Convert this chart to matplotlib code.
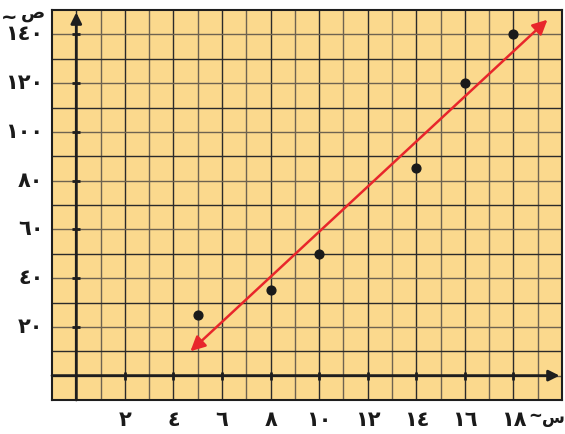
import numpy as np
import matplotlib.pyplot as plt

# data
xs = [5, 8, 10, 14, 16, 18]
ys = [25, 35, 50, 85, 120, 140]
fit_x = [4.7, 19.4]
fit_y = [10, 146]

ar = '٠١٢٣٤٥٦٧٨٩'
def arabic(n):
    return ''.join(ar[int(c)] for c in str(n))

x_ticks = [2, 4, 6, 8, 10, 12, 14, 16, 18]
y_ticks = [20, 40, 60, 80, 100, 120, 140]

plt.rcParams['font.family'] = ['DejaVu Sans']

fig = plt.figure(figsize=(5.65, 4.34), dpi=100)
ax = fig.add_axes([52/565, 34/434, 510/565, 390/434])
ax.set_facecolor('#FBD98D')
ax.set_xlim(-1, 20)
ax.set_ylim(-10, 150)

# grid
for gx in range(0, 20):
    c = '#2b2b2b' if gx % 2 == 0 else '#6e6350'
    ax.axvline(gx, color=c, lw=1.0, zorder=1)
for gy in range(0, 150, 10):
    c = '#6e6350' if gy % 20 == 0 else '#2b2b2b'
    ax.axhline(gy, color=c, lw=1.0, zorder=1)

# axes with arrows
ax.annotate('', xy=(0, 149), xytext=(0, -10),
            arrowprops=dict(arrowstyle='-|>', color='#1e1e1e', lw=2,
                            mutation_scale=16, shrinkA=0, shrinkB=0), zorder=3)
ax.annotate('', xy=(19.9, 0), xytext=(-1, 0),
            arrowprops=dict(arrowstyle='-|>', color='#1e1e1e', lw=2,
                            mutation_scale=16, shrinkA=0, shrinkB=0), zorder=3)

# tick marks on the axes
ax.plot(x_ticks, [0] * len(x_ticks), ls='none', marker='|', ms=6, mew=2, color='#1e1e1e', zorder=3)
ax.plot([0] * len(y_ticks), y_ticks, ls='none', marker='_', ms=6, mew=2, color='#1e1e1e', zorder=3)

# line of best fit
ax.annotate('', xy=(fit_x[1], fit_y[1]), xytext=(fit_x[0], fit_y[0]),
            arrowprops=dict(arrowstyle='<|-|>', color='#E8262B', lw=1.8,
                            mutation_scale=22, shrinkA=0, shrinkB=0), zorder=4)

ax.scatter(xs, ys, s=40, color='#1a1a1a', zorder=5)

ax.set_xticks([])
ax.set_yticks([])
for s in ax.spines.values():
    s.set_color('#1e1e1e')
    s.set_linewidth(1.5)

for t in x_ticks:
    ax.text(t, -18, arabic(t), ha='center', va='center', fontsize=15,
            fontweight='bold', color='#1a1a1a')
for t in y_ticks:
    ax.text(-1.35, t, arabic(t), ha='right', va='center', fontsize=15,
            fontweight='bold', color='#1a1a1a')

# axis names: letter with a swash to its left
ax.text(-2.75, 147.0, '~', ha='center', va='center', fontsize=14,
        fontweight='bold', color='#1a1a1a', clip_on=False)
ax.text(-1.8, 148.9, 'ص', ha='center', va='center', fontsize=13,
        fontweight='bold', color='#1a1a1a', clip_on=False)
ax.text(18.88, -16.5, '~', ha='center', va='center', fontsize=12,
        fontweight='bold', color='#1a1a1a', clip_on=False)
ax.text(19.65, -17.5, 'س', ha='center', va='center', fontsize=12,
        fontweight='bold', color='#1a1a1a', clip_on=False)

fig.savefig('out.png', dpi=100)
